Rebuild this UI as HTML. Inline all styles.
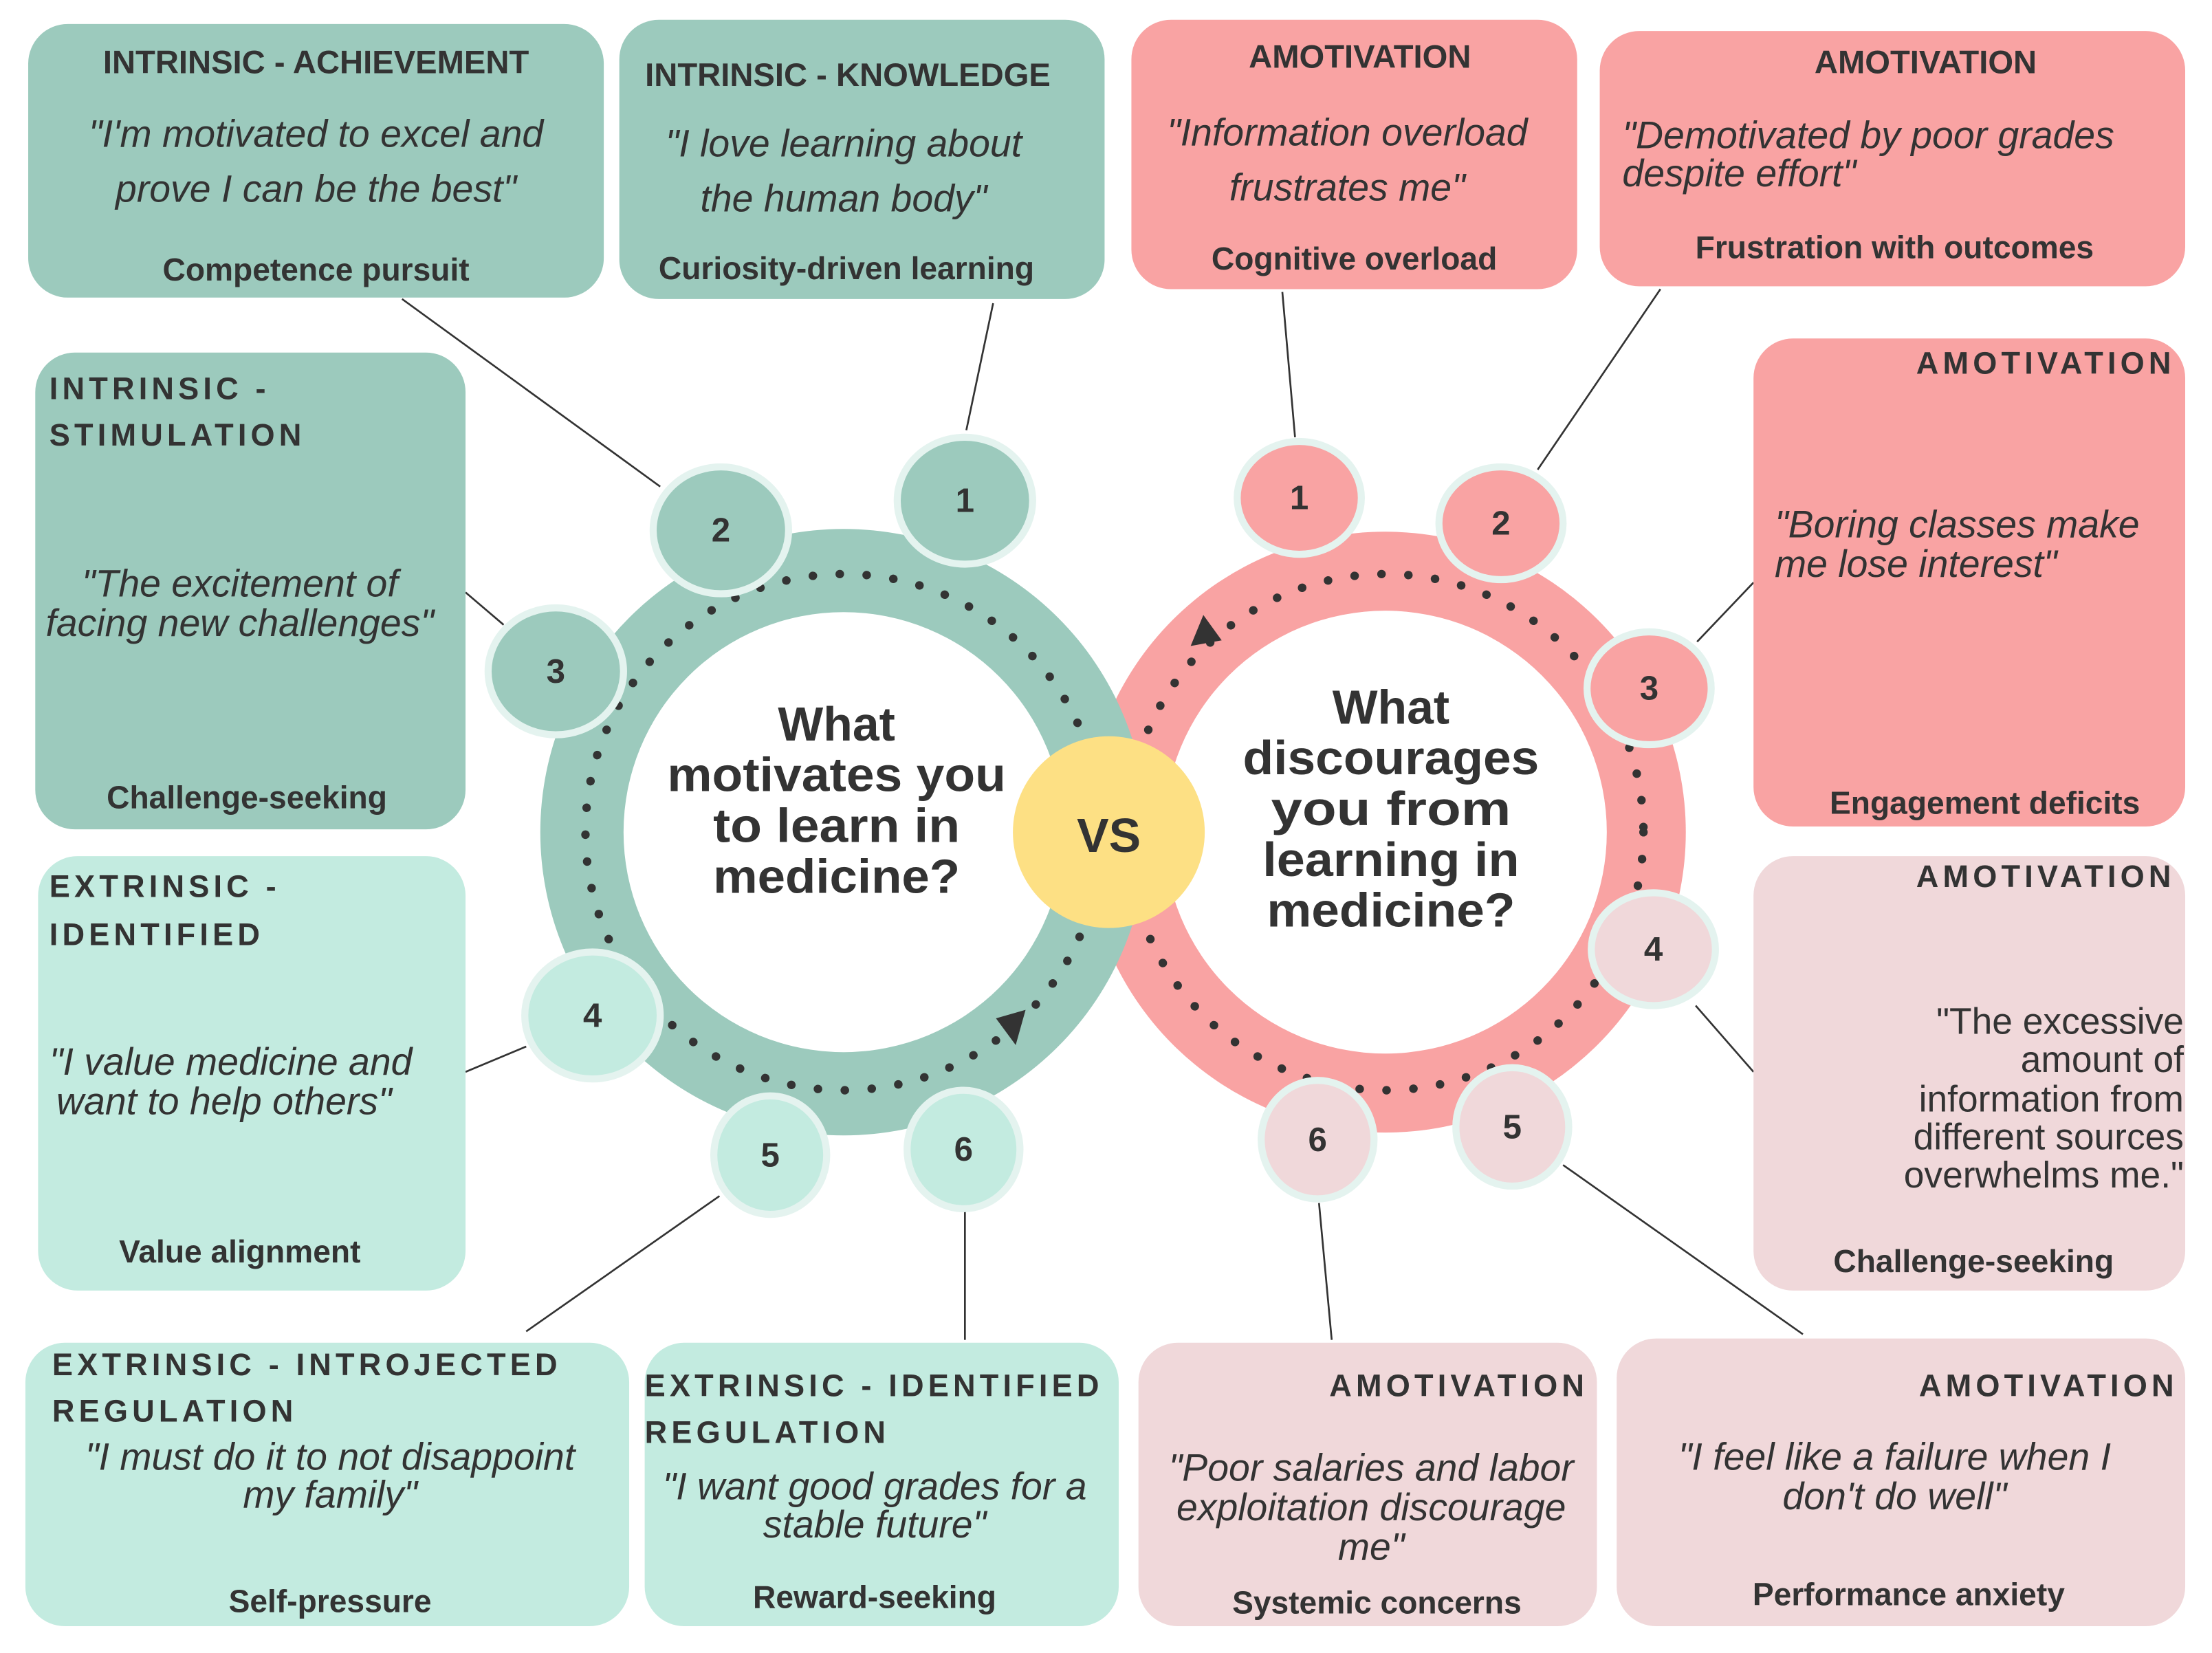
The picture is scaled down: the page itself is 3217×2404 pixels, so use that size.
<!DOCTYPE html>
<html><head><meta charset="utf-8"><style>
html,body{margin:0;padding:0;background:#fff}
svg{display:block}
text{font-family:"Liberation Sans",sans-serif;fill:#333}
.t{font-weight:bold;font-size:23px}
.ts{font-weight:bold;font-size:22px;letter-spacing:3px}
.q{font-style:italic;font-size:27px}
.qn{font-size:26px}
.b{font-weight:bold;font-size:22.5px}
.n{font-weight:bold;font-size:24px}
.c{font-weight:bold;font-size:34px}
</style></head><body>
<svg width="3217" height="2404" viewBox="0 0 1568 1172" preserveAspectRatio="none" xmlns="http://www.w3.org/2000/svg">
<rect width="1568" height="1172" fill="#fff"/>
<g stroke="#333" stroke-width="1.3">
<line x1="285" y1="212" x2="468" y2="345"/><line x1="704" y1="215" x2="685" y2="305"/>
<line x1="909" y1="207" x2="918" y2="310"/><line x1="1177" y1="205" x2="1090" y2="333"/>
<line x1="330" y1="420" x2="357" y2="443"/><line x1="1243" y1="413" x2="1203" y2="455"/>
<line x1="330" y1="760" x2="373" y2="742"/><line x1="1202" y1="713" x2="1243" y2="760"/>
<line x1="510" y1="848" x2="373" y2="944"/><line x1="684" y1="858" x2="684" y2="950"/>
<line x1="935" y1="853" x2="944" y2="950"/><line x1="1108" y1="826" x2="1278" y2="946"/>
</g>
<rect x="20" y="17" width="408" height="194" rx="28" fill="#9ccabd"/>
<rect x="439" y="14" width="344" height="198" rx="28" fill="#9ccabd"/>
<rect x="802" y="14" width="316" height="191" rx="28" fill="#f9a3a3"/>
<rect x="1134" y="22" width="415" height="181" rx="28" fill="#f9a3a3"/>
<rect x="25" y="250" width="305" height="338" rx="28" fill="#9ccabd"/>
<rect x="1243" y="240" width="306" height="346" rx="28" fill="#f9a3a3"/>
<rect x="27" y="607" width="303" height="308" rx="28" fill="#c3ebe0"/>
<rect x="1243" y="607" width="306" height="308" rx="28" fill="#f0d8da"/>
<rect x="18" y="952" width="428" height="201" rx="28" fill="#c3ebe0"/>
<rect x="457" y="952" width="336" height="201" rx="28" fill="#c3ebe0"/>
<rect x="807" y="952" width="325" height="201" rx="28" fill="#f0d8da"/>
<rect x="1146" y="949" width="403" height="204" rx="28" fill="#f0d8da"/>
<circle cx="982" cy="590" r="213" fill="#f9a3a3"/>
<circle cx="982" cy="590" r="157" fill="#fff"/>
<circle cx="598" cy="590" r="215" fill="#9ccabd"/>
<circle cx="598" cy="590" r="156" fill="#fff"/>
<circle cx="598" cy="590" r="183" fill="none" stroke="#333" stroke-width="6" stroke-linecap="round" stroke-dasharray="0.1 19"/>
<circle cx="982" cy="590" r="183" fill="none" stroke="#333" stroke-width="6" stroke-linecap="round" stroke-dasharray="0.1 19"/>
<polygon points="706,722 727,716 720,741" fill="#333"/>
<polygon points="853,436 844,458 866,454" fill="#333"/>
<circle cx="786" cy="590" r="68" fill="#fde084"/>
<text x="786" y="604" class="c" text-anchor="middle" font-size="38">VS</text>
<g text-anchor="middle">
<text x="593" y="525" class="c">What</text>
<text x="593" y="561" class="c" textLength="240" lengthAdjust="spacingAndGlyphs">motivates you</text>
<text x="593" y="597" class="c" textLength="175" lengthAdjust="spacingAndGlyphs">to learn in</text>
<text x="593" y="633" class="c" textLength="175" lengthAdjust="spacingAndGlyphs">medicine?</text>
<text x="986" y="513" class="c">What</text>
<text x="986" y="549" class="c" textLength="210" lengthAdjust="spacingAndGlyphs">discourages</text>
<text x="986" y="585" class="c" textLength="170" lengthAdjust="spacingAndGlyphs">you from</text>
<text x="986" y="621" class="c" textLength="182" lengthAdjust="spacingAndGlyphs">learning in</text>
<text x="986" y="657" class="c" textLength="176" lengthAdjust="spacingAndGlyphs">medicine?</text>
</g>
<g stroke="#e4f3ef" stroke-width="5">
<ellipse cx="684" cy="355" rx="48" ry="45" fill="#9ccabd"/>
<ellipse cx="511" cy="376" rx="48" ry="45" fill="#9ccabd"/>
<ellipse cx="394" cy="476" rx="48" ry="45" fill="#9ccabd"/>
<ellipse cx="420" cy="720" rx="48" ry="45" fill="#c3ebe0"/>
<ellipse cx="546" cy="819" rx="40" ry="42" fill="#c3ebe0"/>
<ellipse cx="683" cy="815" rx="40" ry="42" fill="#c3ebe0"/>
<ellipse cx="921" cy="353" rx="44" ry="40" fill="#f9a3a3"/>
<ellipse cx="1064" cy="371" rx="44" ry="40" fill="#f9a3a3"/>
<ellipse cx="1169" cy="488" rx="44" ry="40" fill="#f9a3a3"/>
<ellipse cx="1172" cy="673" rx="44" ry="40" fill="#f0d8da"/>
<ellipse cx="1072" cy="799" rx="40" ry="42" fill="#f0d8da"/>
<ellipse cx="934" cy="808" rx="40" ry="42" fill="#f0d8da"/>
</g>
<g text-anchor="middle">
<text x="684" y="363" class="n">1</text><text x="511" y="384" class="n">2</text><text x="394" y="484" class="n">3</text>
<text x="420" y="728" class="n">4</text><text x="546" y="827" class="n">5</text><text x="683" y="823" class="n">6</text>
<text x="921" y="361" class="n">1</text><text x="1064" y="379" class="n">2</text><text x="1169" y="496" class="n">3</text>
<text x="1172" y="681" class="n">4</text><text x="1072" y="807" class="n">5</text><text x="934" y="816" class="n">6</text>
</g>
<g text-anchor="middle">
<text x="224" y="52" class="t">INTRINSIC - ACHIEVEMENT</text>
<text x="224" y="104" class="q">"I'm motivated to excel and</text>
<text x="224" y="143" class="q">prove I can be the best"</text>
<text x="224" y="199" class="b">Competence pursuit</text>
<text x="601" y="61" class="t">INTRINSIC - KNOWLEDGE</text>
<text x="598" y="111" class="q">"I love learning about</text>
<text x="598" y="150" class="q">the human body"</text>
<text x="600" y="198" class="b">Curiosity-driven learning</text>
<text x="964" y="48" class="t">AMOTIVATION</text>
<text x="955" y="103" class="q">"Information overload</text>
<text x="955" y="142" class="q">frustrates me"</text>
<text x="960" y="191" class="b">Cognitive overload</text>
<text x="1365" y="52" class="t">AMOTIVATION</text>
<text x="1343" y="183" class="b">Frustration with outcomes</text>
<text x="170" y="423" class="q">"The excitement of</text>
<text x="170" y="451" class="q">facing new challenges"</text>
<text x="175" y="573" class="b">Challenge-seeking</text>
<text x="1407" y="577" class="b">Engagement deficits</text>
<text x="170" y="895" class="b">Value alignment</text>
<text x="1399" y="902" class="b">Challenge-seeking</text>
<text x="234" y="1042" class="q">"I must do it to not disappoint</text>
<text x="234" y="1069" class="q">my family"</text>
<text x="234" y="1143" class="b">Self-pressure</text>
<text x="620" y="1063" class="q">"I want good grades for a</text>
<text x="620" y="1090" class="q">stable future"</text>
<text x="620" y="1140" class="b">Reward-seeking</text>
<text x="972" y="1050" class="q">"Poor salaries and labor</text>
<text x="972" y="1078" class="q">exploitation discourage</text>
<text x="972" y="1106" class="q">me"</text>
<text x="976" y="1144" class="b">Systemic concerns</text>
<text x="1343" y="1042" class="q">"I feel like a failure when I</text>
<text x="1343" y="1070" class="q">don't do well"</text>
<text x="1353" y="1138" class="b">Performance anxiety</text>
</g>
<text x="1150" y="105" class="q">"Demotivated by poor grades</text>
<text x="1150" y="132" class="q">despite effort"</text>
<text x="35" y="283" class="ts">INTRINSIC -</text>
<text x="35" y="316" class="ts">STIMULATION</text>
<text x="1258" y="381" class="q">"Boring classes make</text>
<text x="1258" y="409" class="q">me lose interest"</text>
<text x="35" y="636" class="ts">EXTRINSIC -</text>
<text x="35" y="670" class="ts">IDENTIFIED</text>
<text x="35" y="762" class="q">"I value medicine and</text>
<text x="40" y="790" class="q">want to help others"</text>
<text x="37" y="975" class="ts">EXTRINSIC - INTROJECTED</text>
<text x="37" y="1008" class="ts">REGULATION</text>
<text x="457" y="990" class="ts">EXTRINSIC - IDENTIFIED</text>
<text x="457" y="1023" class="ts">REGULATION</text>
<g text-anchor="end">
<text x="1542" y="265" class="ts">AMOTIVATION</text>
<text x="1542" y="629" class="ts">AMOTIVATION</text>
<text x="1548" y="733" class="qn">"The excessive</text>
<text x="1548" y="760" class="qn">amount of</text>
<text x="1548" y="788" class="qn">information from</text>
<text x="1548" y="815" class="qn">different sources</text>
<text x="1548" y="842" class="qn">overwhelms me."</text>
<text x="1126" y="990" class="ts">AMOTIVATION</text>
<text x="1544" y="990" class="ts">AMOTIVATION</text>
</g>
</svg>
</body></html>
